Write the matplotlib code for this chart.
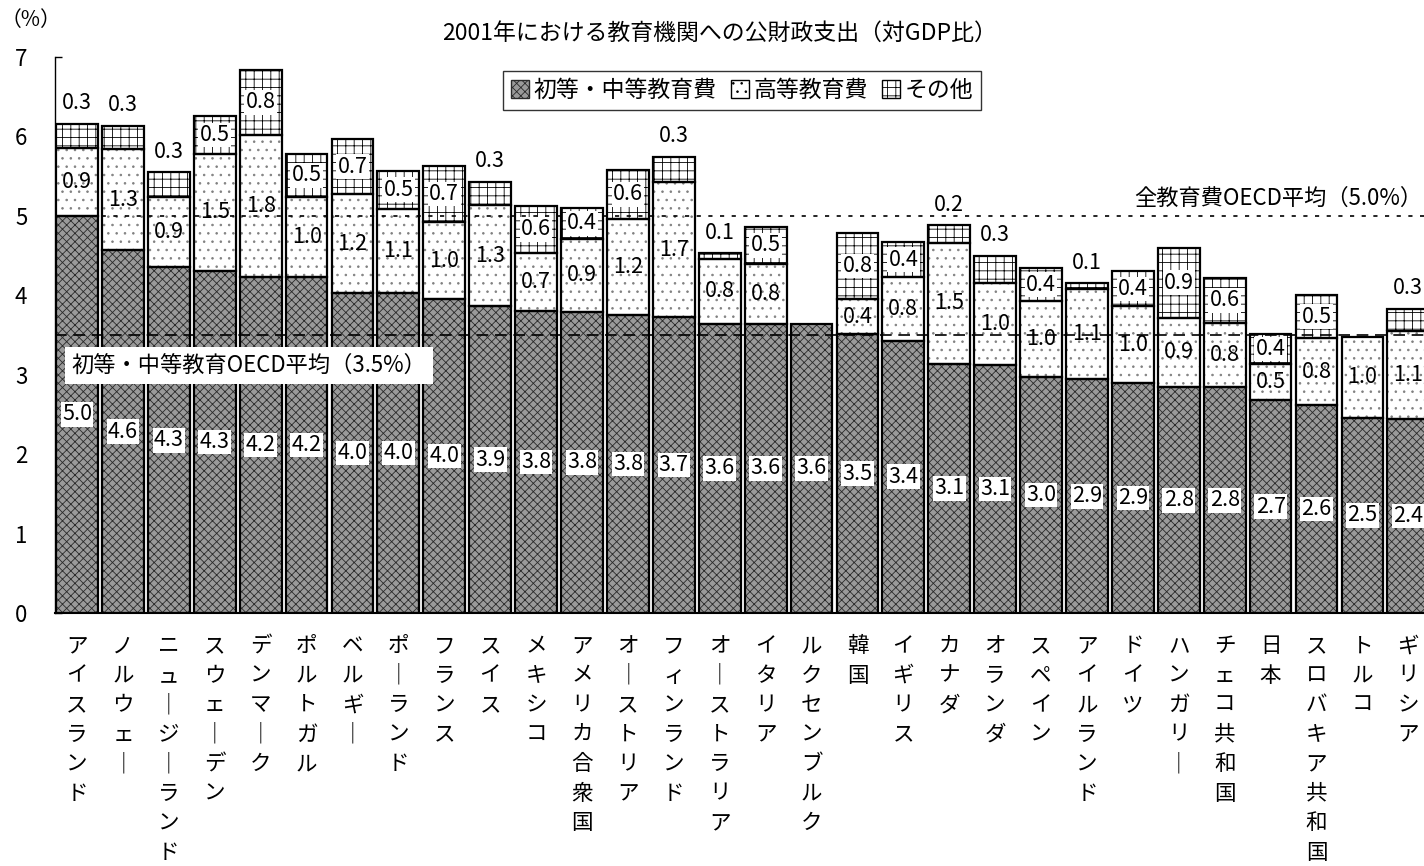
import numpy as np
import matplotlib
matplotlib.use('Agg')
import matplotlib.pyplot as plt
from matplotlib.patches import Patch

countries = ["アイスランド", "ノルウェー", "ニュージーランド", "スウェーデン", "デンマーク",
             "ポルトガル", "ベルギー", "ポーランド", "フランス", "スイス", "メキシコ",
             "アメリカ合衆国", "オーストリア", "フィンランド", "オーストラリア", "イタリア",
             "ルクセンブルク", "韓国", "イギリス", "カナダ", "オランダ", "スペイン",
             "アイルランド", "ドイツ", "ハンガリー", "チェコ共和国", "日本",
             "スロバキア共和国", "トルコ", "ギリシア"]

# 初等・中等教育費, 高等教育費, その他 (% of GDP)
primary = [5.00, 4.57, 4.35, 4.31, 4.23, 4.23, 4.03, 4.03, 3.95, 3.86, 3.80,
           3.79, 3.75, 3.73, 3.64, 3.64, 3.64, 3.51, 3.43, 3.14, 3.12, 2.97,
           2.94, 2.90, 2.84, 2.84, 2.68, 2.62, 2.46, 2.44]
tertiary = [0.86, 1.27, 0.89, 1.47, 1.79, 1.01, 1.24, 1.06, 0.97, 1.28, 0.73,
            0.92, 1.21, 1.69, 0.82, 0.76, 0.0, 0.44, 0.80, 1.52, 1.04, 0.96,
            1.14, 0.96, 0.88, 0.81, 0.46, 0.84, 1.02, 1.11]
other = [0.30, 0.29, 0.31, 0.48, 0.82, 0.54, 0.70, 0.48, 0.71, 0.29, 0.60,
         0.39, 0.62, 0.32, 0.07, 0.46, 0.0, 0.84, 0.44, 0.22, 0.34, 0.41,
         0.07, 0.44, 0.88, 0.57, 0.37, 0.54, 0.0, 0.28]

oecd_total = 5.0
oecd_primary = 3.5

plt.rcParams['font.family'] = ['Noto Sans CJK JP', 'DejaVu Sans']
plt.rcParams['hatch.linewidth'] = 0.6

fig = plt.figure(figsize=(14.24, 8.66), dpi=100)
ax = fig.add_axes([55/1424, 253/866, 1385/1424, 556/866])

x = np.arange(len(countries))
p = np.array(primary)
t = np.array(tertiary)
o = np.array(other)
w = 0.91
num_fs = 15.5

# hatched fills, then black outlines on top
ax.bar(x, p, w, color='#9a9a9a', edgecolor='#2a2a2a', hatch='xxxx', linewidth=0, zorder=2)
ax.bar(x, t, w, bottom=p, color='white', edgecolor='#808080', hatch='..', linewidth=0, zorder=2)
ax.bar(x, o, w, bottom=p+t, color='white', edgecolor='black', hatch='++', linewidth=0, zorder=2)
for b, h in [(0, p), (p, t), (p+t, o)]:
    hh = np.where(h > 0, h, np.nan)
    ax.bar(x, hh, w, bottom=b, fill=False, edgecolor='black', linewidth=1.6, zorder=3)

ax.axhline(oecd_total, color='black', lw=1.2, ls=(0, (2.5, 4.5)), zorder=4)
ax.axhline(oecd_primary, color='black', lw=1.2, ls=(0, (7, 4)), zorder=4)

ax.text(29.3, 5.07, "全教育費OECD平均（5.0%）", ha='right', va='bottom', fontsize=16, zorder=5)
ax.text(-0.12, 3.12, "初等・中等教育OECD平均（3.5%）", ha='left', va='center', fontsize=16,
        bbox=dict(facecolor='white', edgecolor='none', pad=5), zorder=5)

box = dict(facecolor='white', edgecolor='none', pad=1.0)
for i in range(len(countries)):
    ax.text(i, p[i]/2, f"{p[i]:.1f}", ha='center', va='center', fontsize=num_fs, bbox=box, zorder=5)
    if t[i] > 0:
        ax.text(i, p[i] + t[i]/2, f"{t[i]:.1f}", ha='center', va='center', fontsize=num_fs, zorder=5)
    if o[i] > 0:
        top = p[i] + t[i] + o[i]
        if o[i] >= 0.35:
            ax.text(i, top - o[i]/2, f"{o[i]:.1f}", ha='center', va='center', fontsize=num_fs,
                    bbox=box, zorder=5)
        else:
            ax.text(i, top + 0.26, f"{o[i]:.1f}", ha='center', va='center', fontsize=num_fs, zorder=5)

ax.set_xlim(-0.48, 29.69)
ax.set_ylim(0, 7)
ax.set_yticks(range(0, 8))
ax.tick_params(axis='y', direction='in', length=5, width=1, pad=20, labelsize=16)
ax.set_xticks(x)
ax.set_xticklabels(["\n".join(c.replace("ー", "｜")) for c in countries],
                   fontsize=15.5, linespacing=1.44, va='top')
ax.tick_params(axis='x', length=0, pad=16)
ax.spines['top'].set_visible(False)
ax.spines['right'].set_visible(False)
ax.spines['left'].set_linewidth(1.0)
ax.spines['bottom'].set_linewidth(1.5)

fig.text(1/1424, 1 - 20/866, "（%）", ha='left', va='center', fontsize=15)
fig.text(720/1424, 1 - 33/866, "2001年における教育機関への公財政支出（対GDP比）",
         ha='center', va='center', fontsize=16.5)

handles = [Patch(facecolor='#9a9a9a', edgecolor='#2a2a2a', hatch='xxxx', label='初等・中等教育費'),
           Patch(facecolor='white', edgecolor='black', hatch='..', label='高等教育費'),
           Patch(facecolor='white', edgecolor='black', hatch='++', label='その他')]
leg = fig.legend(handles=handles, loc='upper left', bbox_to_anchor=(503/1424, 1 - 71/866),
                 ncol=3, fontsize=16.5, frameon=True, fancybox=False, handlelength=0.8,
                 handleheight=0.8, handletextpad=0.2, columnspacing=0.6, borderpad=0.35,
                 borderaxespad=0)
leg.get_frame().set_edgecolor('black')
leg.get_frame().set_linewidth(1.0)

plt.savefig("out.png", dpi=100)
plt.close()
